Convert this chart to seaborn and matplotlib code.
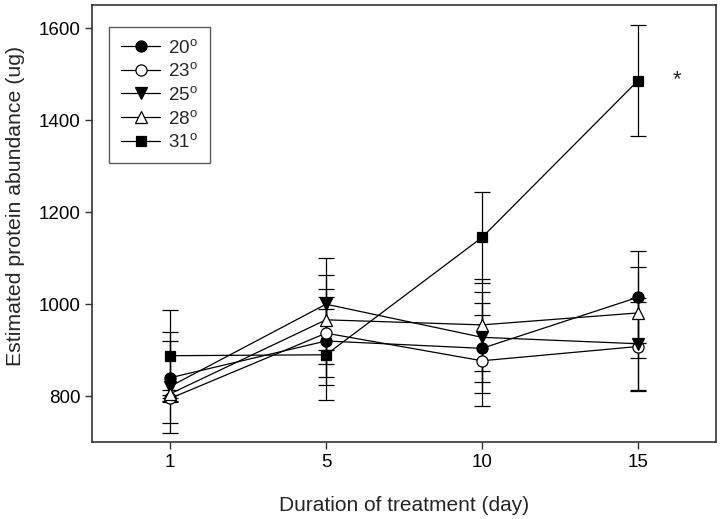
import matplotlib
matplotlib.use("Agg")
import matplotlib.pyplot as plt
import seaborn as sns
import pandas as pd

# =========================
# DATA
# =========================
days = ["1", "5", "10", "15"]
temps = ["20", "23", "25", "28", "31"]

mean_20 = [840, 920, 904, 1015]
mean_23 = [795, 937, 877, 908]
mean_25 = [821, 1000, 928, 914]
mean_28 = [805, 966, 955, 981]
mean_31 = [888, 890, 1145, 1486]

se_20 = [99, 95, 98, 100]
se_23 = [8, 95, 99, 97]
se_25 = [100, 100, 98, 100]
se_28 = [8, 97, 100, 99]
se_31 = [99, 99, 98, 121]

markers = ["o", "o", "v", "^", "s"]
faces = ["black", "white", "black", "white", "black"]

means = [mean_20, mean_23, mean_25, mean_28, mean_31]
ses = [se_20, se_23, se_25, se_28, se_31]

rows = []
for t, m, s in zip(temps, means, ses):
    for i, d in enumerate(days):
        rows.append({"temp": t, "day": d, "pos": i, "mean": m[i], "se": s[i]})
df = pd.DataFrame(rows)

# =========================
# PLOT
# =========================
sns.set_style("ticks")
plt.rcParams["font.family"] = ["Liberation Sans", "DejaVu Sans"]
plt.rcParams["mathtext.fontset"] = "custom"
plt.rcParams["mathtext.rm"] = "Liberation Sans"
plt.rcParams["mathtext.it"] = "Liberation Sans"

fig = plt.figure(figsize=(7.21, 5.19), dpi=100)
ax = fig.add_axes([0.1276, 0.148, 0.8654, 0.842])

for t, mk, fc in zip(temps, markers, faces):
    sub = df[df["temp"] == t]
    ax.errorbar(sub["pos"], sub["mean"], yerr=sub["se"], fmt="none",
                ecolor="black", elinewidth=0.9, capsize=6, capthick=0.9, zorder=1)
    sns.lineplot(data=sub, x="pos", y="mean", ax=ax, color="black",
                 linewidth=0.9, marker=mk, markersize=8 if mk != "s" else 7.5,
                 markerfacecolor=fc, markeredgecolor="black", markeredgewidth=0.9,
                 label=t + r"$^\mathregular{o}$", zorder=3)

ax.text(3.25, 1487, "*", fontsize=16, ha="center", va="center")

ax.set_xlim(-0.5, 3.5)
ax.set_ylim(700, 1650)
ax.set_xticks(range(len(days)))
ax.set_xticklabels(days)
ax.set_yticks([800, 1000, 1200, 1400, 1600])
ax.tick_params(labelsize=13.5, length=5, width=1, colors="#333333", labelcolor="black")
ax.set_xlabel("Duration of treatment (day)", fontsize=15, labelpad=18)
ax.set_ylabel("Estimated protein abundance (ug)", fontsize=15.3)
ax.yaxis.set_label_coords(-0.107, 0.54)

for sp in ax.spines.values():
    sp.set_visible(True)
    sp.set_linewidth(1.2)
    sp.set_color("#333333")

leg = ax.legend(loc="upper left", bbox_to_anchor=(0.027, 0.951), fontsize=13.5,
                frameon=True, fancybox=False, edgecolor="#333333",
                handlelength=2.1, labelspacing=0.3, borderpad=0.65,
                handletextpad=0.4, borderaxespad=0)
leg.get_frame().set_linewidth(1.0)

plt.savefig("out.png", dpi=100)
plt.close()
